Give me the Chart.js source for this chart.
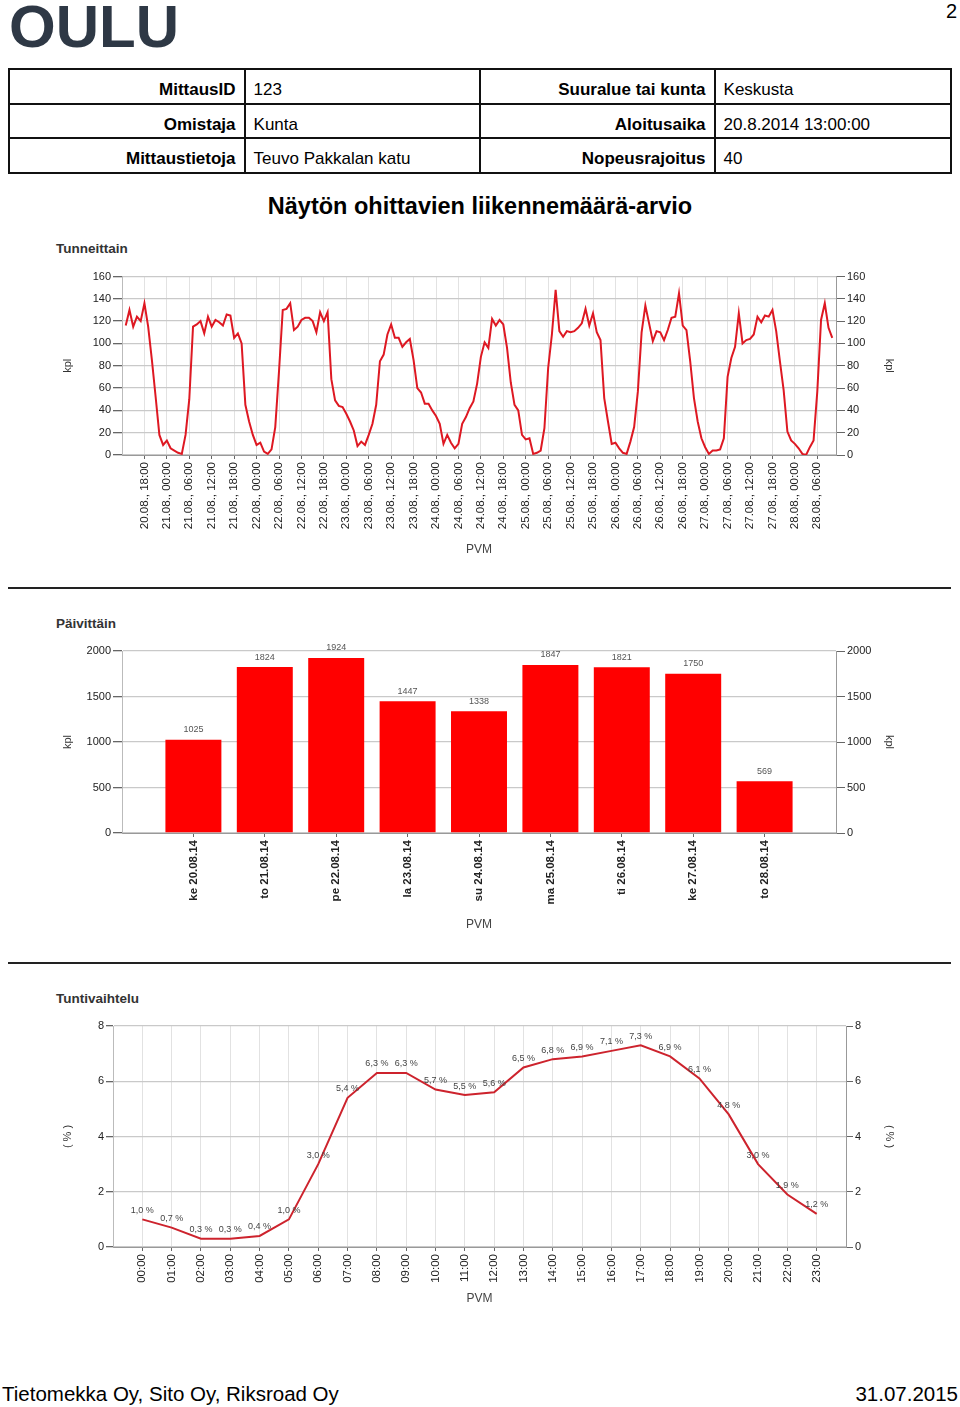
<!DOCTYPE html>
<html>
<head>
<meta charset="utf-8">
<script src="https://cdn.jsdelivr.net/npm/chart.js@4.4.0/dist/chart.umd.min.js"></script>
<style>
  html, body { margin: 0; padding: 0; background: #fff; }
  body { width: 960px; height: 1407px; position: relative; overflow: hidden; font-family: 'Liberation Sans', Arial, sans-serif; color: #000; }
  .abs { position: absolute; white-space: nowrap; }
  #logo { left: 9px; top: -8px; font-size: 60px; font-weight: bold; color: #2e3845; letter-spacing: 0px; }
  #pagenum { right: 3px; top: 0px; font-size: 20px; }
  table.info { position: absolute; left: 8px; top: 68px; width: 944px; border-collapse: collapse; font-size: 17px; }
  table.info td { border: 2px solid #111; height: 24.5px; padding: 8px 8px 0 8px; }
  table.info td.l { font-weight: bold; text-align: right; }
  table.info td.v { text-align: left; }
  #title { left: 0; width: 960px; top: 193px; text-align: center; font-size: 23.5px; font-weight: bold; }
  .heading { left: 56px; font-size: 13.5px; font-weight: bold; color: #333; }
  .rule { position: absolute; left: 8px; width: 943px; height: 2px; background: #222; }
  #footl { left: 2px; top: 1382px; font-size: 20.5px; }
  #footr { right: 2px; top: 1382px; font-size: 20.5px; }
  canvas { position: absolute; left: 0; }
</style>
</head>
<body>
<div id="logo" class="abs">OULU</div>
<div id="pagenum" class="abs">2</div>
<table class="info">
  <colgroup><col style="width:236px"><col style="width:236px"><col style="width:235px"><col style="width:237px"></colgroup>
  <tr><td class="l">MittausID</td><td class="v">123</td><td class="l">Suuralue tai kunta</td><td class="v">Keskusta</td></tr>
  <tr><td class="l">Omistaja</td><td class="v">Kunta</td><td class="l">Aloitusaika</td><td class="v">20.8.2014 13:00:00</td></tr>
  <tr><td class="l">Mittaustietoja</td><td class="v">Teuvo Pakkalan katu</td><td class="l">Nopeusrajoitus</td><td class="v">40</td></tr>
</table>
<div id="title" class="abs">Näytön ohittavien liikennemäärä-arvio</div>

<div class="abs heading" style="top:241px">Tunneittain</div>
<canvas id="c1" width="960" height="297" style="top:260px"></canvas>
<div class="rule" style="top:587px"></div>

<div class="abs heading" style="top:616px">Päivittäin</div>
<canvas id="c2" width="960" height="292" style="top:640px"></canvas>
<div class="rule" style="top:962px"></div>

<div class="abs heading" style="top:991px">Tuntivaihtelu</div>
<canvas id="c3" width="960" height="291" style="top:1015px"></canvas>

<div id="footl" class="abs">Tietomekka Oy, Sito Oy, Riksroad Oy</div>
<div id="footr" class="abs">31.07.2015</div>

<script>
// ---------- DATA ----------
const startDay = 20;      // 20.08. 13:00 = first hourly value
const startHour = 13;

const hourlyValues = [
  116,130,115,124,120,136,115,85,52,18,9,
  13,6,4,2,1,18,50,115,117,120,109,124,115,121,119,116,126,125,105,109,100,45,30,18,
  9,11,3,1,5,25,75,130,131,136,112,115,121,123,123,120,110,128,120,128,68,49,44,43,
  37,30,22,8,12,9,18,28,45,84,90,108,117,105,105,97,101,104,85,60,56,46,46,40,
  35,28,10,18,11,6,10,28,34,42,48,64,88,101,96,122,116,121,117,96,65,45,40,18,
  14,15,1,2,4,24,78,108,148,111,106,111,110,111,114,118,131,116,127,110,103,51,30,10,
  11,6,2,1,12,25,57,110,134,118,102,111,110,103,112,123,124,145,116,112,84,51,30,15,
  7,1,4,4,5,15,70,87,97,127,100,103,104,108,124,119,125,124,130,111,84,58,21,13,
  10,6,1,0,7,13,57,121,136,114,105
];

const hourlyTickLabels = [
  '20.08., 18:00',
  '21.08., 00:00','21.08., 06:00','21.08., 12:00','21.08., 18:00',
  '22.08., 00:00','22.08., 06:00','22.08., 12:00','22.08., 18:00',
  '23.08., 00:00','23.08., 06:00','23.08., 12:00','23.08., 18:00',
  '24.08., 00:00','24.08., 06:00','24.08., 12:00','24.08., 18:00',
  '25.08., 00:00','25.08., 06:00','25.08., 12:00','25.08., 18:00',
  '26.08., 00:00','26.08., 06:00','26.08., 12:00','26.08., 18:00',
  '27.08., 00:00','27.08., 06:00','27.08., 12:00','27.08., 18:00',
  '28.08., 00:00','28.08., 06:00'
];

const dayLabels = ['ke 20.08.14','to 21.08.14','pe 22.08.14','la 23.08.14','su 24.08.14','ma 25.08.14','ti 26.08.14','ke 27.08.14','to 28.08.14'];
const dayValues = [1025, 1824, 1924, 1447, 1338, 1847, 1821, 1750, 569];

const hourLabels = ['00:00','01:00','02:00','03:00','04:00','05:00','06:00','07:00','08:00','09:00','10:00','11:00',
                    '12:00','13:00','14:00','15:00','16:00','17:00','18:00','19:00','20:00','21:00','22:00','23:00'];
const hourShare = [1.0,0.7,0.3,0.3,0.4,1.0,3.0,5.4,6.3,6.3,5.7,5.5,5.6,6.5,6.8,6.9,7.1,7.3,6.9,6.1,4.8,3.0,1.9,1.2];

// ---------- HELPERS ----------
Chart.defaults.font.family = "'Liberation Sans', Arial, sans-serif";
Chart.defaults.color = '#222';

function labelHourIndex(lbl) {
  const m = lbl.match(/^(\d+)\.(\d+)\., (\d+):(\d+)$/);
  return (parseInt(m[1]) - startDay) * 24 + parseInt(m[3]) - startHour;
}
const hourlyTickPos = hourlyTickLabels.map(labelHourIndex);

const tickFont = { size: 11 };
const titleFont = { size: 11 };

function yAxes(min, max, step, title, lw, rw, tl) {
  const fmt = v => String(v);
  return {
    y: {
      position: 'left', min, max,
      ticks: { stepSize: step, font: tickFont, color: '#222', padding: 2, callback: fmt },
      grid: { color: '#c9c9c9', lineWidth: 1.3, tickLength: tl, tickColor: '#666' },
      border: { display: true, color: '#bbb' },
      title: { display: true, text: title, font: titleFont, color: '#333', padding: { top: 61.4, bottom: 0 } },
      afterFit: s => { s.width = lw; }
    },
    y2: {
      position: 'right', min, max,
      ticks: { stepSize: step, font: tickFont, color: '#222', padding: 2, callback: fmt },
      grid: { drawOnChartArea: false, tickLength: tl, tickColor: '#666' },
      border: { display: true, color: '#999' },
      title: { display: true, text: title, font: titleFont, color: '#333', padding: { top: 64.4, bottom: 0 } },
      afterFit: s => { s.width = rw; }
    }
  };
}

function xLinear(min, max, positions, labels, height, gridOn, labelFont) {
  return {
    type: 'linear', min, max, offset: false,
    afterBuildTicks: s => { s.ticks = positions.map(v => ({ value: v })); },
    ticks: {
      autoSkip: false, maxRotation: 90, minRotation: 90, padding: 3,
      font: labelFont, color: '#222',
      callback: (v) => { const k = positions.indexOf(v); return k >= 0 ? labels[k] : ''; }
    },
    grid: { display: true, drawOnChartArea: gridOn, color: '#e2e2e2', lineWidth: 1, offset: false, tickLength: 4, tickColor: '#666' },
    border: { display: true, color: '#999' },
    title: { display: true, text: 'PVM', font: { size: 12 }, color: '#444', padding: { top: 0, bottom: 0 } },
    afterFit: s => { s.height = height; }
  };
}

const valueLabels = {
  id: 'valueLabels',
  afterDatasetsDraw(chart, args, opts) {
    if (!opts || !opts.format) return;
    const ctx = chart.ctx;
    const meta = chart.getDatasetMeta(0);
    const data = chart.data.datasets[0].data;
    ctx.save();
    ctx.font = (opts.size || 9) + "px 'Liberation Sans', Arial, sans-serif";
    ctx.fillStyle = opts.color || '#444';
    ctx.textAlign = 'center';
    ctx.textBaseline = 'middle';
    meta.data.forEach((el, i) => {
      const v = typeof data[i] === 'object' ? data[i].y : data[i];
      ctx.fillText(opts.format(v), el.x + (opts.dx || 0), el.y - opts.dy);
    });
    ctx.restore();
  }
};

// ---------- CHART 1 : Tunneittain ----------
new Chart(document.getElementById('c1'), {
  type: 'line',
  data: { datasets: [{
    data: hourlyValues.map((v, i) => ({ x: i, y: v })),
    borderColor: 'rgb(222,24,34)', borderWidth: 2, pointRadius: 0, tension: 0, fill: false
  }]},
  options: {
    responsive: false, animation: false,
    layout: { padding: { top: 16.5, left: 0, right: 0, bottom: 0 } },
    plugins: { legend: { display: false }, tooltip: { enabled: false } },
    scales: Object.assign({
      x: xLinear(-1, hourlyValues.length, hourlyTickPos, hourlyTickLabels, 102, true, { size: 11.5 })
    }, yAxes(0, 160, 20, 'kpl', 122, 124, 9))
  }
});

// ---------- CHART 2 : Päivittäin ----------
const dayPos = dayLabels.map((_, i) => i);
new Chart(document.getElementById('c2'), {
  type: 'bar',
  data: { datasets: [{
    data: dayValues.map((v, i) => ({ x: i, y: v })),
    backgroundColor: '#ff0000', borderWidth: 0,
    categoryPercentage: 0.8, barPercentage: 0.98
  }]},
  options: {
    responsive: false, animation: false,
    layout: { padding: { top: 11, left: 0, right: 0, bottom: 0 } },
    plugins: { legend: { display: false }, tooltip: { enabled: false },
      valueLabels: { format: v => String(v), dy: 10, size: 9, color: '#555' } },
    scales: Object.assign({
      x: xLinear(-1, dayLabels.length, dayPos, dayLabels, 99, false, { size: 11.5, weight: 'bold' })
    }, yAxes(0, 2000, 500, 'kpl', 122, 124, 9))
  },
  plugins: [valueLabels]
});

// ---------- CHART 3 : Tuntivaihtelu ----------
const hourPos = hourLabels.map((_, i) => i);
new Chart(document.getElementById('c3'), {
  type: 'line',
  data: { datasets: [{
    data: hourShare.map((v, i) => ({ x: i, y: v })),
    borderColor: 'rgb(205,35,45)', borderWidth: 2, pointRadius: 0, tension: 0, fill: false
  }]},
  options: {
    responsive: false, animation: false,
    layout: { padding: { top: 11, left: 0, right: 0, bottom: 0 } },
    plugins: { legend: { display: false }, tooltip: { enabled: false },
      valueLabels: { format: v => v.toFixed(1).replace('.', ',') + ' %', dy: 9, size: 9, color: '#444' } },
    scales: Object.assign({
      x: xLinear(-1, hourLabels.length, hourPos, hourLabels, 59, true, { size: 11.5 })
    }, yAxes(0, 8, 2, '( % )', 113, 114, 7))
  },
  plugins: [valueLabels]
});
</script>
</body>
</html>
